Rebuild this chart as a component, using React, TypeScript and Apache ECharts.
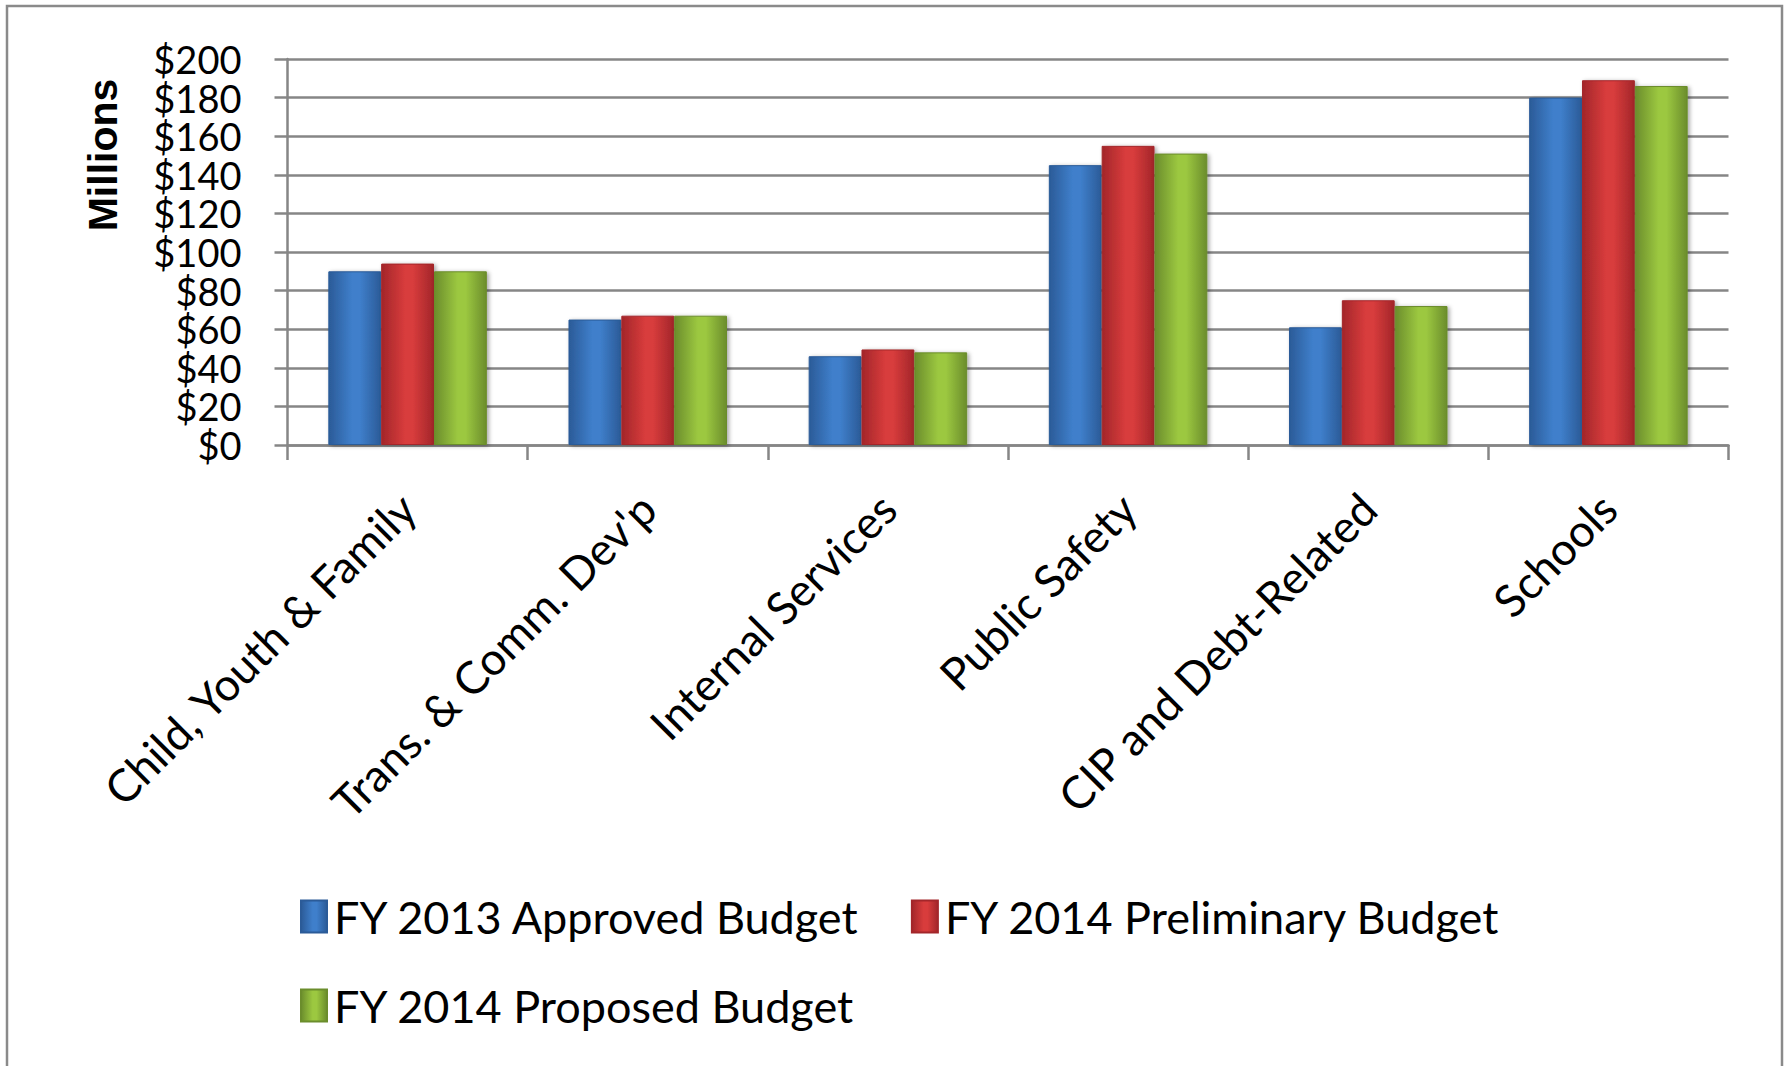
import React, { useEffect, useRef } from 'react';
import * as echarts from 'echarts';

const categories = [
  'Child, Youth & Family',
  "Trans. & Comm. Dev'p",
  'Internal Services',
  'Public Safety',
  'CIP and Debt-Related',
  'Schools',
];
const seriesNames = ['FY 2013 Approved Budget', 'FY 2014 Preliminary Budget', 'FY 2014 Proposed Budget'];
const fy2013Approved = [90, 65, 46, 145, 61, 180];
const fy2014Preliminary = [94, 67, 49.5, 155, 75, 189];
const fy2014Proposed = [90, 67, 48, 151, 72, 186];
const yMin = 0;
const yMax = 200;
const yStep = 20;

const FONT = 'Lato';

function grad(edge: string, mid: string) {
  return new echarts.graphic.LinearGradient(0, 0, 1, 0, [
    { offset: 0, color: edge },
    { offset: 0.45, color: mid },
    { offset: 0.6, color: mid },
    { offset: 1, color: edge },
  ]);
}

export default function App() {
  const ref = useRef<HTMLDivElement>(null);
  useEffect(() => {
    if (!ref.current) return;
    const chart = echarts.init(ref.current, null, { renderer: 'svg' });
    const palettes = [
      ['#2b5b98', '#3f7fcb'],
      ['#a3262a', '#d83c3c'],
      ['#6b8d2c', '#9cc840'],
    ];
    const data = [fy2013Approved, fy2014Preliminary, fy2014Proposed];
    chart.setOption({
      animation: false,
      backgroundColor: '#ffffff',
      graphic: [
        {
          type: 'rect',
          shape: { x: 7, y: 6, width: 1775, height: 1080 },
          style: { fill: 'none', stroke: '#8a8a8a', lineWidth: 2.5 },
          silent: true,
        },
        {
          type: 'text',
          x: 103,
          y: 155,
          rotation: Math.PI / 2,
          style: {
            text: 'Millions',
            font: 'bold 41px "Liberation Sans"',
            fill: '#000',
            align: 'center',
            verticalAlign: 'middle',
          },
        },
      ],
      legend: {
        data: seriesNames,
        left: 300,
        top: 894,
        width: 1350,
        padding: 0,
        itemGap: 44,
        itemWidth: 26,
        itemHeight: 32,
        icon: 'rect',
        textStyle: { fontFamily: FONT, fontSize: 45, lineHeight: 28, color: '#000', padding: [0, 6, 0, 2] },
      },
      grid: { left: 287.5, right: 60.5, top: 59, bottom: 621, containLabel: false },
      xAxis: {
        type: 'category',
        data: categories,
        axisLine: { lineStyle: { color: '#868686', width: 2.5 } },
        axisTick: { show: true, length: 15, interval: 0, lineStyle: { color: '#868686', width: 2.5 } },
        axisLabel: {
          interval: 0,
          rotate: 45,
          margin: 56,
          fontFamily: FONT,
          fontSize: 45,
          color: '#000',
        },
      },
      yAxis: {
        type: 'value',
        min: yMin,
        max: yMax,
        interval: yStep,
        axisLine: { show: true, lineStyle: { color: '#868686', width: 2.5 } },
        axisTick: { show: true, length: 13, lineStyle: { color: '#868686', width: 2.5 } },
        splitLine: { lineStyle: { color: '#868686', width: 2.5 } },
        axisLabel: {
          margin: 46,
          fontFamily: FONT,
          fontSize: 38,
          lineHeight: 28,
          color: '#000',
          showMinLabel: true,
          showMaxLabel: true,
          hideOverlap: false,
          formatter: (v: number) => '$' + v,
        },
      },
      series: data.map((d, i) => ({
        name: seriesNames[i],
        type: 'bar',
        data: d,
        barGap: '0%',
        barCategoryGap: '34%',
        itemStyle: {
          color: grad(palettes[i][0], palettes[i][1]),
          borderColor: palettes[i][0],
          borderWidth: 1,
          shadowBlur: 4,
          shadowColor: 'rgba(0,0,0,0.35)',
          shadowOffsetX: 2,
          shadowOffsetY: 1,
        },
      })),
    });
    return () => chart.dispose();
  }, []);
  return (
    <div
      ref={ref}
      style={{ position: 'absolute', left: 0, top: 0, width: 1789, height: 1066 }}
    />
  );
}
